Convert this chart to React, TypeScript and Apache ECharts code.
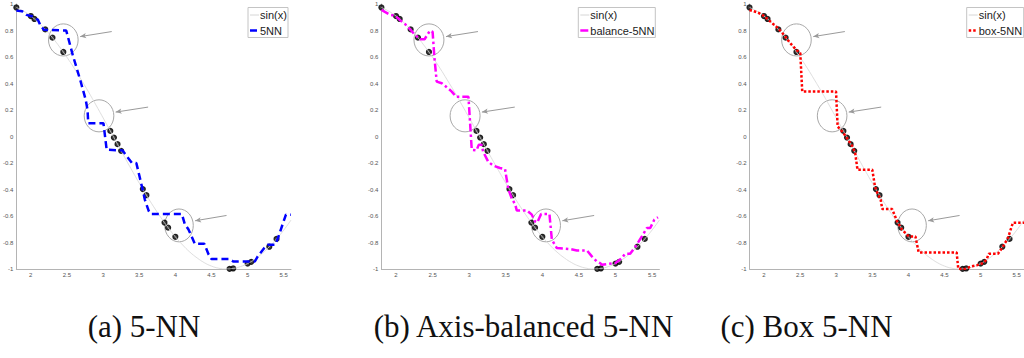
import React, { useEffect, useRef } from "react";
import * as echarts from "echarts";

// reference curve sin(x), read at 0.1 steps
const sinX = [1.8, 1.9, 2.0, 2.1, 2.2, 2.3, 2.4, 2.5, 2.6, 2.7, 2.8, 2.9, 3.0, 3.1, 3.2, 3.3, 3.4, 3.5, 3.6, 3.7, 3.8, 3.9, 4.0, 4.1, 4.2, 4.3, 4.4, 4.5, 4.6, 4.7, 4.8, 4.9, 5.0, 5.1, 5.2, 5.3, 5.4, 5.5, 5.6];
const sinY = [0.974, 0.946, 0.909, 0.863, 0.808, 0.746, 0.675, 0.598, 0.516, 0.427, 0.335, 0.239, 0.141, 0.042, -0.058, -0.158, -0.256, -0.351, -0.443, -0.53, -0.612, -0.688, -0.757, -0.818, -0.872, -0.916, -0.952, -0.978, -0.994, -1.0, -0.996, -0.982, -0.959, -0.926, -0.883, -0.832, -0.773, -0.706, -0.631];

// training samples
const ptX = [1.8, 2.0, 2.05, 2.2, 2.3, 2.45, 3.1, 3.15, 3.2, 3.25, 3.55, 3.6, 3.85, 3.9, 4.0, 4.75, 4.8, 5.0, 5.05, 5.3, 5.4];
const ptY = [0.974, 0.909, 0.887, 0.808, 0.746, 0.638, 0.042, -0.008, -0.058, -0.108, -0.397, -0.443, -0.65, -0.688, -0.757, -0.999, -0.996, -0.959, -0.946, -0.832, -0.773];

// (a) 5NN prediction
const knnX = [1.8, 1.88, 1.94, 2.0, 2.03, 2.1, 2.13, 2.18, 2.49, 2.58, 2.69, 2.76, 2.785, 2.795, 3.005, 3.05, 3.27, 3.33, 3.4, 3.46, 3.53, 3.58, 3.63, 3.66, 4.09, 4.13, 4.18, 4.23, 4.27, 4.4, 4.46, 4.5, 4.75, 4.8, 5.1, 5.14, 5.23, 5.28, 5.38, 5.42, 5.49, 5.53, 5.6];
const knnY = [0.95, 0.945, 0.918, 0.91, 0.905, 0.88, 0.842, 0.805, 0.8, 0.616, 0.415, 0.276, 0.2, 0.1, 0.1, -0.1, -0.105, -0.15, -0.2, -0.2, -0.36, -0.48, -0.56, -0.585, -0.585, -0.66, -0.7, -0.76, -0.81, -0.81, -0.89, -0.925, -0.925, -0.943, -0.943, -0.905, -0.842, -0.817, -0.817, -0.766, -0.653, -0.59, -0.59];

// (b) balance-5NN prediction
const balX = [1.8, 1.92, 1.99, 2.05, 2.12, 2.19, 2.26, 2.33, 2.39, 2.465, 2.5, 2.524, 2.556, 2.625, 2.693, 2.762, 2.82, 2.99, 3.035, 3.1, 3.13, 3.17, 3.19, 3.26, 3.33, 3.42, 3.49, 3.514, 3.536, 3.58, 3.63, 3.65, 3.79, 3.856, 3.9, 3.93, 3.983, 4.097, 4.13, 4.198, 4.38, 4.472, 4.609, 4.677, 4.745, 4.79, 4.814, 5.0, 5.087, 5.13, 5.2, 5.29, 5.36, 5.43, 5.475, 5.53, 5.58];
const balY = [0.955, 0.918, 0.912, 0.88, 0.85, 0.81, 0.767, 0.734, 0.734, 0.8, 0.79, 0.6, 0.414, 0.402, 0.372, 0.339, 0.3, 0.3, -0.1, -0.105, -0.063, -0.063, -0.113, -0.19, -0.22, -0.238, -0.246, -0.327, -0.4, -0.465, -0.515, -0.558, -0.558, -0.59, -0.641, -0.649, -0.585, -0.585, -0.779, -0.842, -0.85, -0.86, -0.86, -0.905, -0.943, -0.955, -0.968, -0.955, -0.917, -0.885, -0.885, -0.817, -0.754, -0.69, -0.69, -0.628, -0.61];

// (c) box-5NN prediction
const boxX = [1.8, 1.92, 2.0, 2.105, 2.196, 2.288, 2.356, 2.448, 2.503, 2.53, 2.998, 3.02, 3.066, 3.135, 3.226, 3.263, 3.295, 3.5, 3.537, 3.57, 3.616, 3.638, 3.775, 3.844, 3.913, 4.005, 4.097, 4.142, 4.668, 4.69, 4.78, 4.874, 4.943, 5.035, 5.08, 5.113, 5.24, 5.31, 5.378, 5.447, 5.6];
const boxY = [0.955, 0.935, 0.91, 0.86, 0.817, 0.76, 0.709, 0.654, 0.629, 0.339, 0.339, 0.075, 0.05, 0.0, -0.075, -0.125, -0.251, -0.251, -0.377, -0.427, -0.477, -0.548, -0.548, -0.641, -0.704, -0.754, -0.754, -0.875, -0.875, -1.0, -1.0, -0.98, -0.973, -0.955, -0.93, -0.885, -0.885, -0.83, -0.766, -0.65, -0.65];

// annotation ellipses (data units) and arrows
const annCX = [2.45, 2.944, 4.05];
const annCY = [0.729, 0.156, -0.671];
const annRX = [0.205, 0.205, 0.198];
const annRY = [0.121, 0.121, 0.124];
const arrFromX = [3.12, 3.623, 4.708];
const arrFromY = [0.792, 0.222, -0.596];
const arrToX = [2.683, 3.174, 4.273];
const arrToY = [0.754, 0.184, -0.636];

const sinName = "sin(x)";
const predNames = ["5NN", "balance-5NN", "box-5NN"];
const captions = ["(a) 5-NN", "(b) Axis-balanced 5-NN", "(c) Box 5-NN"];

const zip = (xs: number[], ys: number[]) => xs.map((x, i) => [x, ys[i]]);

export default function App() {
  const ref = useRef<HTMLDivElement>(null);
  useEffect(() => {
    document.body.style.margin = "0";
    if (!ref.current) return;
    const chart = echarts.init(ref.current, null, { renderer: "svg" });

    const gridLeft = [15, 381.4, 749.5];
    const gridWidth = [276, 278, 276.5];
    const legendLeft = [248, 578.3, 966.7];
    const legendWidth = [40, 77, 57];
    const captionX = [144, 523.5, 806.5];
    const preds = [zip(knnX, knnY), zip(balX, balY), zip(boxX, boxY)];
    const predColors = ["#0000ff", "#ff00ff", "#ff0000"];
    const predDash: number[][] = [[7, 4], [8, 3, 2.5, 3], [2.5, 2]];
    const sinColor = "#d6d6d6";

    const axisLineStyle = { color: "#b4b4b4", width: 1 };
    const labelStyle = { fontSize: 6, color: "#555", fontFamily: "Liberation Sans" };

    const grids: any[] = [];
    const xAxes: any[] = [];
    const yAxes: any[] = [];
    const series: any[] = [];
    const graphics: any[] = [];

    const ellipseData = annCX.map((cx, i) => [cx, annCY[i], annRX[i], annRY[i]]);
    const arrowData = arrFromX.map((fx, i) => [
      { coord: [fx, arrFromY[i]] },
      { coord: [arrToX[i], arrToY[i]] },
    ]);

    for (let p = 0; p < 3; p++) {
      grids.push({ left: gridLeft[p], top: 4, width: gridWidth[p], height: 265 });
      xAxes.push({
        gridIndex: p,
        type: "value",
        min: 1.8,
        max: 5.6,
        minInterval: 0.5,
        maxInterval: 0.5,
        axisLine: { show: true, onZero: false, lineStyle: axisLineStyle },
        axisTick: { show: false },
        splitLine: { show: false },
        axisLabel: { ...labelStyle, margin: 3, showMinLabel: false, showMaxLabel: false },
      });
      yAxes.push({
        gridIndex: p,
        type: "value",
        min: -1,
        max: 1,
        interval: 0.2,
        axisLine: { show: true, onZero: false, lineStyle: axisLineStyle },
        axisTick: { show: false },
        splitLine: { show: false },
        axisLabel: {
          ...labelStyle,
          margin: 3,
          formatter: (v: number) => {
            const r = Math.round(v * 10) / 10;
            return r === 0 ? "0" : String(r);
          },
        },
      });
      series.push({
        type: "custom",
        name: "annot" + p,
        xAxisIndex: p,
        yAxisIndex: p,
        silent: true,
        data: ellipseData,
        renderItem: (params: any, api: any) => {
          const c = api.coord([api.value(0), api.value(1)]);
          const s = api.size([api.value(2), api.value(3)]);
          return {
            type: "ellipse",
            shape: { cx: c[0], cy: c[1], rx: s[0], ry: s[1] },
            style: { fill: "none", stroke: "#a8a8a8", lineWidth: 1 },
          };
        },
      });
      series.push({
        type: "line",
        name: sinName,
        xAxisIndex: p,
        yAxisIndex: p,
        data: zip(sinX, sinY),
        smooth: true,
        symbol: "none",
        showSymbol: false,
        lineStyle: { color: sinColor, width: 0.8 },
        itemStyle: { color: sinColor },
        markLine: {
          silent: true,
          symbol: ["none", "arrow"],
          symbolSize: [4, 6],
          label: { show: false },
          lineStyle: { color: "#9a9a9a", width: 1, type: "solid" },
          data: arrowData,
        },
      });
      series.push({
        type: "scatter",
        name: "samples" + p,
        xAxisIndex: p,
        yAxisIndex: p,
        data: zip(ptX, ptY),
        symbol: "circle",
        symbolSize: 5,
        itemStyle: { color: "#111", borderColor: "#000", borderWidth: 1.2 },
      });
      series.push({
        type: "line",
        name: predNames[p],
        xAxisIndex: p,
        yAxisIndex: p,
        data: preds[p],
        symbol: "none",
        showSymbol: false,
        lineStyle: { color: predColors[p], width: 2.5, type: predDash[p], cap: "butt" },
        itemStyle: { color: predColors[p] },
      });

      // legend box drawn as graphic
      const lx = legendLeft[p];
      graphics.push({
        type: "group",
        z: 100,
        children: [
          {
            type: "rect",
            shape: { x: lx, y: 7.5, width: legendWidth[p], height: 30 },
            style: { fill: "#fff", stroke: "#c4c4c4", lineWidth: 1 },
          },
          {
            type: "line",
            shape: { x1: lx + 2, y1: 15, x2: lx + 11, y2: 15 },
            style: { stroke: sinColor, lineWidth: 1 },
          },
          {
            type: "text",
            x: lx + 12,
            y: 15,
            style: {
              text: sinName,
              font: '11px "Liberation Sans"',
              fill: "#222",
              textAlign: "left",
              textVerticalAlign: "middle",
            },
          },
          {
            type: "line",
            shape: { x1: lx + 2, y1: 30.5, x2: lx + 11, y2: 30.5 },
            style: { stroke: predColors[p], lineWidth: 2.5, lineDash: predDash[p], lineCap: "butt" },
          },
          {
            type: "text",
            x: lx + 12,
            y: 30.5,
            style: {
              text: predNames[p],
              font: '11px "Liberation Sans"',
              fill: "#222",
              textAlign: "left",
              textVerticalAlign: "middle",
            },
          },
        ],
      });
      graphics.push({
        type: "text",
        x: captionX[p],
        y: 326,
        style: {
          text: captions[p],
          font: '31px "Liberation Serif"',
          fill: "#111",
          textAlign: "center",
          textVerticalAlign: "middle",
        },
      });
    }

    chart.setOption({
      animation: false,
      backgroundColor: "#fff",
      grid: grids,
      xAxis: xAxes,
      yAxis: yAxes,
      series,
      graphic: graphics,
    });
    return () => chart.dispose();
  }, []);
  return <div ref={ref} style={{ width: 1024, height: 358 }} />;
}
